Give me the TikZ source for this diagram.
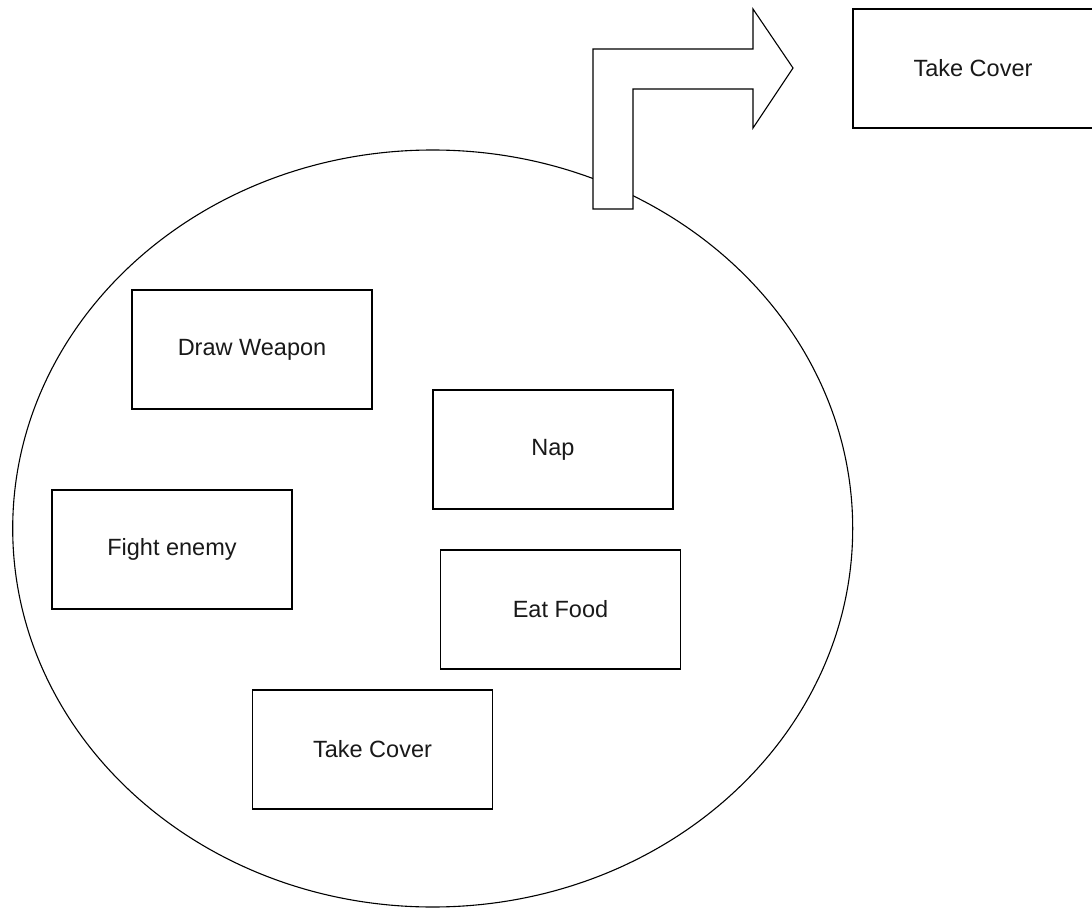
\documentclass[tikz,border=0pt]{standalone}
\usepackage{fontspec}
\setmainfont{Liberation Sans}
\usetikzlibrary{shapes.geometric}
\begin{document}
\begin{tikzpicture}[x=1pt,y=-1pt,
  task/.style={draw=black,line width=1.2pt,fill=white,minimum width=240pt,minimum height=119pt,
    inner sep=0pt,font=\fontsize{23.5}{26}\selectfont,text=black!90},
  outline/.style={draw=black,line width=1.1pt}]
\useasboundingbox (0,0) rectangle (1092,909);
\clip (0,0) rectangle (1092,909);
% the enclosing group
\node[outline,ellipse,minimum width=840pt,minimum height=757pt,inner sep=0pt] (group) at (432.7,528.5) {};
% bent arrow leaving the group
\filldraw[outline,fill=white,line join=miter]
  (593,209) coordinate (arrowfoot) -- (593,49) -- (753,49) -- (753,9) -- (793,68) coordinate (arrowtip)
  -- (753,128) -- (753,89) -- (633,89) -- (633,209) -- cycle;
% tasks
\node[task] (cover2) at (973,68.5) {Take Cover};
\node[task] (weapon) at (252,349.5) {Draw Weapon};
\node[task] (nap) at (553,449.5) {Nap};
\node[task] (fight) at (172,549.5) {Fight enemy};
\node[task] (eat) at (560.5,609.5) {Eat Food};
\node[task] (cover) at (372.5,749.5) {Take Cover};
\end{tikzpicture}
\end{document}
